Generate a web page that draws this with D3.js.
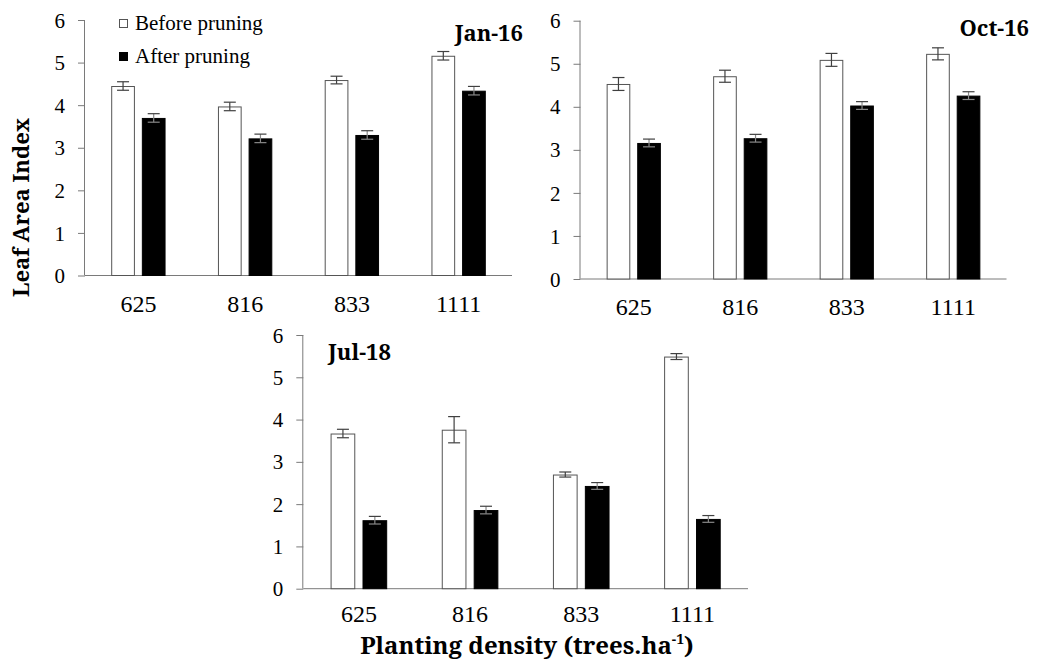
<!DOCTYPE html>
<html>
<head>
<meta charset="utf-8">
<script src="https://cdn.jsdelivr.net/npm/d3@7"></script>
<style>
  html, body { margin: 0; padding: 0; background: #fff; }
  svg { display: block; }
</style>
</head>
<body>
<svg id="chart" width="1038" height="662"></svg>
<script>
// ---------------- data ----------------
const categories = ["625", "816", "833", "1111"];
const series = ["Before pruning", "After pruning"];
const yTicks = [0, 1, 2, 3, 4, 5, 6];

const jan16Before = [4.45, 3.97, 4.59, 5.16];
const jan16After = [3.70, 3.22, 3.30, 4.34];
const jan16BeforeErr = [0.10, 0.10, 0.09, 0.10];
const jan16AfterErr = [0.10, 0.10, 0.10, 0.10];

const oct16Before = [4.53, 4.71, 5.09, 5.23];
const oct16After = [3.16, 3.27, 4.03, 4.26];
const oct16BeforeErr = [0.15, 0.14, 0.15, 0.14];
const oct16AfterErr = [0.09, 0.09, 0.09, 0.09];

const jul18Before = [3.67, 3.76, 2.70, 5.49];
const jul18After = [1.62, 1.86, 2.43, 1.65];
const jul18BeforeErr = [0.10, 0.31, 0.06, 0.07];
const jul18AfterErr = [0.09, 0.09, 0.08, 0.08];

// ---------------- layout ----------------
const SERIF = '"Liberation Serif"';
const BOLD = '"Noto Serif"';

const panels = [
  { title: "Jan-16", before: jan16Before, after: jan16After, beforeErr: jan16BeforeErr, afterErr: jan16AfterErr,
    x0: 85, x1: 512, yTop: 20, yBot: 275.5, labelPad: 19, titleX: 523, titleY: 41, titleAnchor: "end" },
  { title: "Oct-16", before: oct16Before, after: oct16After, beforeErr: oct16BeforeErr, afterErr: oct16AfterErr,
    x0: 580.5, x1: 1006.5, yTop: 20.7, yBot: 279, labelPad: 19, titleX: 1029, titleY: 36, titleAnchor: "end" },
  { title: "Jul-18", before: jul18Before, after: jul18After, beforeErr: jul18BeforeErr, afterErr: jul18AfterErr,
    x0: 303.3, x1: 748, yTop: 335, yBot: 588.7, labelPad: 16, titleX: 328, titleY: 360, titleAnchor: "start" }
];

const svg = d3.select("#chart");
const axisColor = "#7a7a7a";
const errColor = "#404040";

panels.forEach(p => {
  const x = d3.scaleBand().domain(categories).range([p.x0, p.x1]).paddingInner(0).paddingOuter(0);
  const xs = d3.scaleBand().domain(series).range([0, x.bandwidth()]).paddingInner(0.2265).paddingOuter(0.855);
  const y = d3.scaleLinear().domain([0, 6]).range([p.yBot, p.yTop]);
  const g = svg.append("g");

  // y axis
  const yAx = g.append("g").attr("transform", `translate(${p.x0},0)`)
    .call(d3.axisLeft(y).tickValues(yTicks).tickFormat(d3.format("d")).tickSize(7).tickPadding(13));
  yAx.attr("font-family", null).attr("font-size", null);
  yAx.select(".domain").attr("stroke", axisColor).attr("d", `M-0.5,${p.yBot}V${p.yTop}`);
  yAx.selectAll(".tick line").attr("stroke", axisColor);
  yAx.selectAll(".tick text").style("font-family", SERIF).style("font-size", "21px").attr("dy", "0.34em").attr("fill", "#000");

  // x axis
  const xAx = g.append("g").attr("transform", `translate(0,${p.yBot})`)
    .call(d3.axisBottom(x).tickSize(0).tickPadding(p.labelPad));
  xAx.attr("font-family", null).attr("font-size", null);
  xAx.select(".domain").attr("stroke", axisColor).attr("d", `M${p.x0},0H${p.x1}`);
  xAx.selectAll(".tick text").style("font-family", SERIF).style("font-size", "24px").attr("dy", "0.71em").attr("fill", "#000");

  const rows = categories.map((c, i) => ({
    cat: c,
    vals: [
      { s: series[0], v: p.before[i], e: p.beforeErr[i] },
      { s: series[1], v: p.after[i], e: p.afterErr[i] }
    ]
  }));

  const grp = g.selectAll(".cat").data(rows).join("g")
    .attr("transform", d => `translate(${x(d.cat)},0)`);

  grp.selectAll("rect").data(d => d.vals).join("rect")
    .attr("x", d => xs(d.s) + 0.5)
    .attr("y", d => y(d.v) + 0.5)
    .attr("width", xs.bandwidth() - 1)
    .attr("height", d => y(0) - y(d.v) - 0.5)
    .attr("fill", d => d.s === series[0] ? "#fff" : "#000")
    .attr("stroke", d => d.s === series[0] ? "#555" : "#000")
    .attr("stroke-width", 1);

  const cap = 6;
  const eb = grp.selectAll(".err").data(d => d.vals).join("g").attr("class", "err")
    .attr("stroke", errColor).attr("stroke-width", 1.2).attr("fill", "none");
  eb.append("line")
    .attr("x1", d => xs(d.s) + xs.bandwidth() / 2).attr("x2", d => xs(d.s) + xs.bandwidth() / 2)
    .attr("y1", d => y(d.v + d.e)).attr("y2", d => y(d.v - d.e))
    .attr("stroke", d => d.s === series[0] ? errColor : "#888");
  eb.append("line")
    .attr("x1", d => xs(d.s) + xs.bandwidth() / 2 - cap).attr("x2", d => xs(d.s) + xs.bandwidth() / 2 + cap)
    .attr("y1", d => y(d.v + d.e)).attr("y2", d => y(d.v + d.e));
  eb.append("line")
    .attr("x1", d => xs(d.s) + xs.bandwidth() / 2 - cap).attr("x2", d => xs(d.s) + xs.bandwidth() / 2 + cap)
    .attr("y1", d => y(d.v - d.e)).attr("y2", d => y(d.v - d.e))
    .attr("stroke", d => d.s === series[0] ? errColor : "#888");

  // panel title
  g.append("text")
    .attr("x", p.titleX).attr("y", p.titleY)
    .attr("text-anchor", p.titleAnchor)
    .style("font-family", BOLD).style("font-weight", "bold")
    .style("font-size", "22px")
    .text(p.title);
});

// legend
const legend = svg.append("g");
const legendItems = [
  { s: series[0], fill: "#fff", stroke: "#555", y: 19 },
  { s: series[1], fill: "#000", stroke: "#000", y: 52 }
];
legendItems.forEach(it => {
  legend.append("rect").attr("x", 119.5).attr("y", it.y + 0.5).attr("width", 8).attr("height", 8)
    .attr("fill", it.fill).attr("stroke", it.stroke);
  legend.append("text").attr("x", 135).attr("y", it.y + 11)
    .style("font-family", SERIF)
    .style("font-size", "21px")
    .text(it.s);
});

// axis titles
svg.append("text")
  .attr("transform", "translate(29,207.5) rotate(-90)")
  .attr("text-anchor", "middle")
  .style("font-family", BOLD).style("font-weight", "bold")
  .style("font-size", "22px")
  .text("Leaf Area Index");

const xt = svg.append("text")
  .attr("x", 527).attr("y", 654)
  .attr("text-anchor", "middle")
  .style("font-family", BOLD).style("font-weight", "bold")
  .style("font-size", "24px");
xt.append("tspan").text("Planting density (trees.ha");
xt.append("tspan").attr("dy", -10).style("font-size", "14px").text("-1");
xt.append("tspan").attr("dy", 10).text(")");
</script>
</body>
</html>
